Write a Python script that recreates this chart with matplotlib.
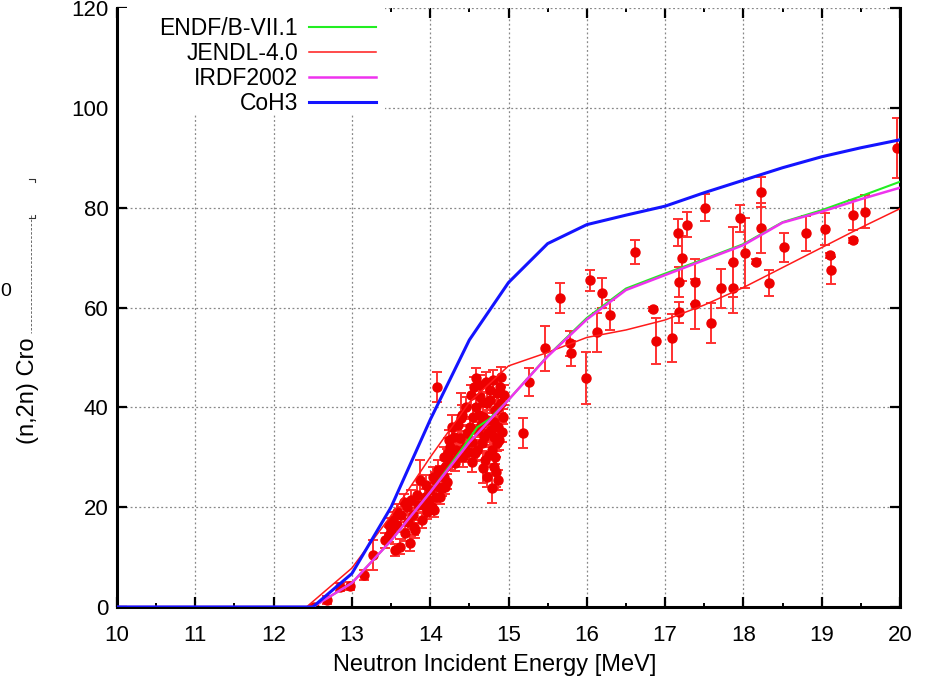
import matplotlib
matplotlib.use("Agg")
import matplotlib.pyplot as plt
from matplotlib.lines import Line2D
from matplotlib.patches import Rectangle
from matplotlib.ticker import MultipleLocator

plt.rcParams['font.family'] = ['Liberation Sans', 'DejaVu Sans']

# ---------------- data ----------------
endf_E = [10, 12.5, 13.0, 13.5, 14.0, 14.44, 14.6, 14.75, 15.0, 15.5, 16.0, 16.5, 17.0, 17.5, 18.0, 18.5, 19.0, 19.5, 20.0]
endf_s = [0, 0, 4.8, 13.3, 23.0, 32.4, 36.0, 37.6, 41.5, 50.3, 57.9, 63.8, 66.8, 69.7, 72.7, 77.1, 79.5, 82.3, 85.2]

jendl_E = [10, 12.42, 13.0, 13.5, 14.0, 14.5, 15.0, 15.5, 16.0, 16.5, 17.0, 17.5, 18.0, 18.5, 19.0, 19.5, 20.0]
jendl_s = [0, 0, 7.8, 18.3, 30.0, 41.0, 48.3, 51.0, 54.0, 55.5, 57.5, 60.5, 64.0, 68.0, 72.0, 76.0, 79.8]

irdf_E = [10, 12.5, 13.0, 13.5, 14.0, 14.5, 15.0, 15.5, 16.0, 16.5, 17.0, 17.5, 18.0, 18.5, 19.0, 19.5, 20.0]
irdf_s = [0, 0, 4.8, 13.3, 23.0, 33.0, 41.5, 50.2, 57.6, 63.5, 66.5, 69.5, 72.5, 77.0, 79.2, 81.7, 84.0]

coh3_E = [10, 12.5, 13.0, 13.5, 14.0, 14.5, 15.0, 15.5, 16.0, 16.5, 17.0, 17.5, 18.0, 18.5, 19.0, 19.5, 20.0]
coh3_s = [0, 0, 6.7, 20.0, 37.5, 53.5, 65.0, 72.8, 76.6, 78.5, 80.3, 83.0, 85.5, 88.0, 90.2, 92.0, 93.6]

exp_E = [12.51, 12.68, 12.85, 12.98, 13.15, 13.27,
         13.42, 13.47, 13.48, 13.55, 13.57, 13.61, 13.66, 13.68, 13.72, 13.74, 13.78, 13.81,
         13.85, 13.87, 13.89, 13.93, 13.96, 14.00, 14.02, 14.06, 14.08, 14.13, 14.15, 14.19,
         14.21, 14.23, 14.09,
         14.59, 14.39, 14.30, 14.38, 14.21, 14.25, 14.15, 14.19, 14.13, 14.32, 14.35, 14.44,
         14.47, 14.51, 14.53, 14.55, 14.57, 14.59, 14.61, 14.64, 14.66, 14.68, 14.70, 14.72,
         14.74, 14.76, 14.79, 14.81, 14.79, 14.68, 14.83, 14.85, 14.87, 14.89, 14.91, 14.93,
         14.81, 14.83, 14.85,
         13.50, 13.53, 13.58, 13.63, 13.70, 13.76, 13.79, 13.83, 13.91, 13.94, 13.98, 14.03,
         14.05, 14.10, 14.11, 14.17, 14.18, 14.24, 14.27, 14.28, 14.33, 14.36, 14.41, 14.42,
         14.46, 14.49, 14.52, 14.54, 14.56, 14.60, 14.62, 14.63, 14.65, 14.67, 14.69, 14.71,
         14.73, 14.75, 14.77, 14.78, 14.80, 14.82, 14.84, 14.86, 14.88, 14.90, 14.92, 14.94,
         14.86, 14.72,
         15.18, 15.26, 15.47, 15.66, 15.79, 15.80, 15.99, 16.04, 16.13, 16.20, 16.30, 16.62,
         16.84, 16.89, 17.09, 17.16, 17.18, 17.18, 17.21, 17.28, 17.38, 17.38, 17.51, 17.59,
         17.71, 17.87, 17.87, 17.96, 18.02, 18.16, 18.22, 18.23, 18.33, 18.52, 18.80, 19.04,
         19.11, 19.12, 19.40, 19.40, 19.55, 19.96]
exp_s = [0.0, 1.4, 4.1, 4.3, 6.4, 10.5,
         13.4, 16.4, 14.5, 11.4, 19.1, 12.1, 21.1, 14.8, 17.1, 12.8, 18.4, 15.4,
         20.4, 25.5, 17.4, 22.1, 19.1, 23.4, 20.1, 25.5, 22.1, 26.8, 23.8, 28.1,
         25.1, 30.8, 44.0,
         45.8, 37.8, 34.1, 33.8, 30.1, 32.1, 26.8, 24.1, 22.1, 28.8, 30.6, 32.1,
         34.8, 36.1, 33.1, 38.1, 30.8, 40.1, 35.5, 42.1, 32.8, 38.1, 29.5, 40.8,
         34.8, 43.5, 31.5, 28.1, 23.8, 27.8, 39.5, 42.8, 36.1, 44.1, 40.8, 38.1,
         34.1, 30.1, 32.8,
         15.5, 17.5, 16.5, 18.5, 20.0, 21.5, 16.0, 22.5, 20.5, 24.5, 21.5, 26.0,
         19.5, 27.5, 24.0, 30.0, 26.0, 33.5, 29.5, 36.0, 31.5, 36.5, 38.5, 30.0,
         40.0, 31.0, 42.5, 29.0, 44.0, 31.5, 38.5, 44.5, 36.5, 41.0, 34.0, 45.0,
         37.5, 30.5, 41.5, 35.5, 45.5, 37.0, 27.0, 40.0, 33.5, 46.0, 35.0, 42.5,
         25.5, 26.0,
         34.8, 45.0, 51.8, 61.9, 52.8, 50.8, 45.8, 65.5, 55.0, 63.0, 58.5, 71.1,
         59.7, 53.3, 53.8, 75.0, 65.2, 59.0, 69.9, 76.6, 65.2, 60.7, 80.0, 56.9,
         63.9, 69.2, 63.9, 77.9, 71.0, 69.2, 75.9, 83.2, 65.0, 72.1, 74.9, 75.7,
         70.5, 67.5, 78.6, 73.5, 79.2, 91.9]
exp_err = [0.5, 0.8, 0.8, 0.8, 1.0, 3.0,
           1.5, 1.5, 1.5, 1.2, 1.5, 1.5, 1.5, 1.5, 1.5, 1.5, 1.5, 1.5,
           1.5, 4.0, 1.5, 1.5, 1.5, 1.5, 1.5, 1.5, 1.5, 1.5, 1.5, 1.5,
           1.5, 3.0, 3.0,
           2.0, 5.0, 1.5, 1.5, 1.5, 1.5, 1.5, 1.5, 1.5, 1.5, 1.5, 1.5,
           1.5, 1.5, 1.5, 2.0, 1.5, 2.0, 1.5, 2.0, 1.5, 2.0, 1.5, 2.0,
           1.5, 2.0, 1.5, 1.5, 3.0, 3.0, 2.0, 2.0, 1.5, 2.0, 2.0, 1.5,
           1.5, 1.5, 1.5,
           1.5, 1.5, 1.5, 1.5, 1.5, 2.0, 1.5, 2.0, 1.5, 2.0, 1.5, 2.0,
           1.5, 2.0, 1.5, 2.0, 1.5, 2.0, 2.0, 2.5, 2.0, 2.0, 2.0, 2.0,
           2.0, 2.0, 2.0, 2.0, 2.0, 2.0, 2.0, 2.0, 2.0, 2.0, 2.0, 2.0,
           2.0, 2.0, 2.0, 2.0, 2.0, 2.0, 3.0, 2.0, 2.0, 2.0, 2.0, 2.0,
           2.0, 2.0,
           3.0, 2.8, 4.5, 3.0, 2.5, 2.5, 5.2, 2.1, 3.9, 3.0, 3.0, 2.4,
           0.5, 4.6, 4.8, 2.7, 3.0, 2.2, 4.5, 2.5, 4.5, 5.0, 2.7, 4.0,
           3.9, 7.0, 5.0, 2.7, 7.0, 0.5, 5.0, 3.0, 2.6, 2.9, 3.5, 3.2,
           0.5, 2.7, 3.0, 0.5, 3.3, 6.0]

x_ticks = [10, 11, 12, 13, 14, 15, 16, 17, 18, 19, 20]
y_ticks = [0, 20, 40, 60, 80, 100, 120]

# ---------------- figure ----------------
W, H = 926, 681
fig = plt.figure(figsize=(W / 100, H / 100), dpi=100)
ax = fig.add_axes([117 / W, 74 / H, 783 / W, 599 / H])

ax.set_xlim(10, 20)
ax.set_ylim(0, 120)
ax.set_xticks(x_ticks)
ax.set_yticks(y_ticks)
ax.xaxis.set_minor_locator(MultipleLocator(0.5))

ax.set_axisbelow(True)
ax.grid(True, which='major', color='#888888', linestyle=(0, (1.5, 2.0)), linewidth=0.9)

for side in ['left', 'bottom', 'right']:
    ax.spines[side].set_linewidth(2.2)
ax.spines['top'].set_visible(False)

ax.tick_params(axis='both', which='major', direction='in', length=7.5, width=1.6,
               top=True, right=True, labelsize=16)
ax.tick_params(axis='x', which='major', pad=13)
ax.tick_params(axis='y', which='major', pad=6)
ax.tick_params(axis='x', which='minor', direction='in', length=3, width=1.4, top=True)

# experimental data
ax.errorbar(exp_E, exp_s, yerr=exp_err, fmt='o', color='#ee0000', ecolor='#ff3030',
            markersize=6.5, elinewidth=1.4, capsize=3.5, capthick=1.4, zorder=2)

# evaluations
l1, = ax.plot(endf_E, endf_s, color='#22ee22', lw=1.5, zorder=3)
l2, = ax.plot(jendl_E, jendl_s, color='#ff1a1a', lw=1.1, zorder=3)
l3, = ax.plot(irdf_E, irdf_s, color='#ee33ee', lw=1.8, zorder=4)
l4, = ax.plot(coh3_E, coh3_s, color='#1414ff', lw=2.2, zorder=5)

# white area behind the key
ax.add_patch(Rectangle((0, 1 - (115 - 8) / 599), (385 - 117) / 783, (115 - 8) / 599,
                       transform=ax.transAxes, facecolor='white', edgecolor='none', zorder=1.5))

leg = ax.legend([l1, l2, l3, l4], ['ENDF/B-VII.1', 'JENDL-4.0', 'IRDF2002', 'CoH3'],
                loc='upper right', bbox_to_anchor=((385 - 117) / 783, 1.0),
                markerfirst=False, frameon=False, fontsize=16.5, handlelength=2.9,
                handletextpad=0.5, labelspacing=0.08, borderpad=0.4, borderaxespad=0)
leg.set_zorder(6)

# axis labels
fig.text(495 / W, 1 - 665 / H, 'Neutron Incident Energy [MeV]', ha='center', va='center', fontsize=17)
fig.text(28 / W, 1 - 391 / H, '(n,2n) Cro', rotation=90, ha='center', va='center', fontsize=17)
fig.text(6 / W, 1 - 291 / H, '0', ha='center', va='center', fontsize=14)

def px_line(xs, ys, **kw):
    fig.add_artist(Line2D([x / W for x in xs], [1 - y / H for y in ys],
                          transform=fig.transFigure, **kw))

px_line([31, 31], [215, 333], color='#555555', lw=0.6, ls=(0, (3, 2)))
px_line([29, 35, 35], [179, 179, 182], color='#333333', lw=0.8)
px_line([35, 35, 29], [215, 218, 218], color='#333333', lw=0.8)

fig.savefig('out.png', dpi=100, facecolor='white')
